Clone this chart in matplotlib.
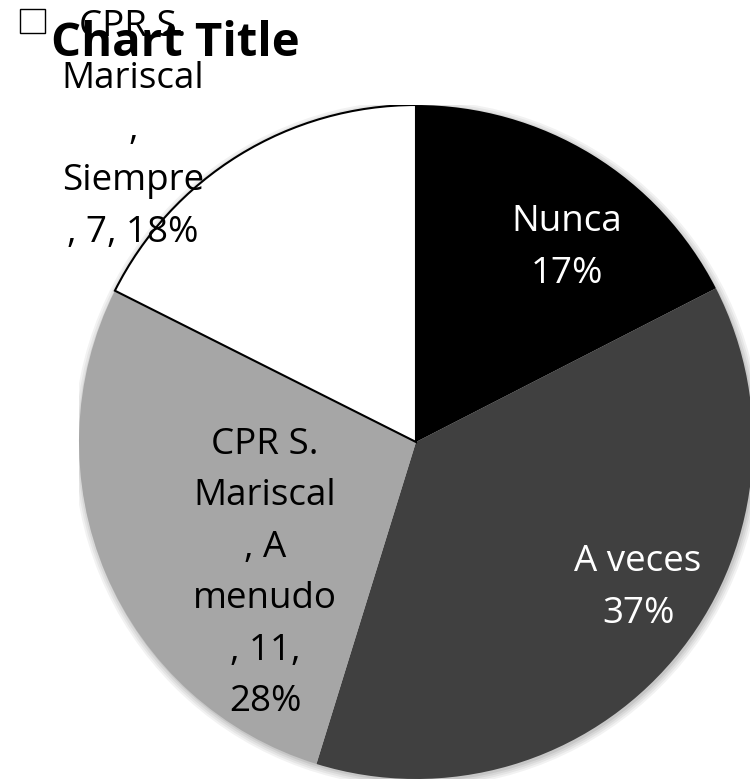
import matplotlib.pyplot as plt
from matplotlib.patches import Circle, Rectangle, Wedge

# slice data (clockwise from 12 o'clock)
categories = ['Nunca', 'A veces', 'A menudo', 'Siempre']
values = [6.95, 14.85, 11, 7]
colors = ['#000000', '#404040', '#a6a6a6', '#ffffff']
series_name = 'CPR S. Mariscal'

total = sum(values)
pcts = [round(v / total * 100) for v in values]

labels = [
    f'{categories[0]}\n{pcts[0]}%',
    f'{categories[1]}\n{pcts[1]}%',
    f'CPR S.\nMariscal\n, A\nmenudo\n, {values[2]:g},\n{pcts[2]}%',
    f'CPR S.\nMariscal\n,\nSiempre\n, {values[3]:g}, {pcts[3]}%',
]
label_colors = ['white', 'white', 'black', 'black']
label_pos = [(0.448, 0.576), (0.659, -0.433), (-0.448, -0.390), (-0.84, 0.926)]

W, H = 750, 783
cx, cy, r = 416, 442, 337

plt.rcParams['font.family'] = ['Open Sans', 'DejaVu Sans']

fig = plt.figure(figsize=(W / 100, H / 100), dpi=100)
ax = fig.add_axes([(cx - r) / W, (H - cy - r) / H, 2 * r / W, 2 * r / H])

# soft shadow around the pie
for i, a in enumerate([0.05, 0.05, 0.06, 0.07]):
    ax.add_patch(Circle((0.004, -0.006), 1.02 - i * 0.006, color='black',
                        alpha=a, lw=0, zorder=0))

wedges, _ = ax.pie(values, colors=colors, startangle=90, counterclock=False,
                   radius=1, wedgeprops=dict(linewidth=0))
for w in wedges:
    w.set_zorder(1)

# outline of the white slice, drawn over the labels
sw = wedges[3]
ax.add_patch(Wedge(sw.center, sw.r, sw.theta1, sw.theta2, fill=False,
                   edgecolor='black', lw=1.5, zorder=5))

for lab, col, (x, y) in zip(labels, label_colors, label_pos):
    ax.text(x, y, lab, color=col, fontsize=26.5, ha='center', va='center',
            linespacing=1.57, zorder=4, clip_on=False)

ax.set_xlim(-1, 1)
ax.set_ylim(-1, 1)
ax.set_aspect('equal')
ax.axis('off')

fig.text(175 / W, 1 - 43 / H, 'Chart Title', fontsize=34, fontweight='bold',
         ha='center', va='center', zorder=6)
fig.add_artist(Rectangle((20 / W, 1 - 33 / H), 25 / W, 24 / H,
                         transform=fig.transFigure, fill=False,
                         edgecolor='black', lw=1))

fig.savefig('out.png', dpi=100)
